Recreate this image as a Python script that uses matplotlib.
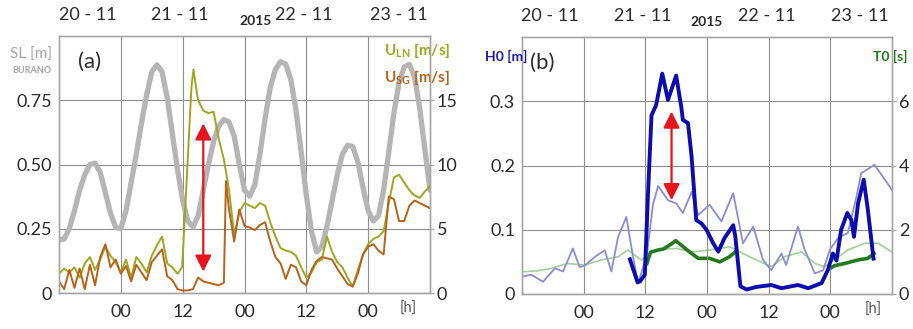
import numpy as np
import matplotlib
matplotlib.use("Agg")
import matplotlib.pyplot as plt

plt.rcParams['font.family'] = ['Lato', 'DejaVu Sans']

# ---------------- data (hours from 20-11-2015 12:00) ----------------
# Sea level at Burano [m], hourly
sl_level = [0.207, 0.21, 0.25, 0.32, 0.40, 0.46, 0.50, 0.505, 0.47, 0.39, 0.31, 0.255, 0.25,
            0.32, 0.43, 0.54, 0.66, 0.77, 0.86, 0.888, 0.86, 0.76, 0.62, 0.48, 0.36, 0.28,
            0.257, 0.30, 0.40, 0.50, 0.59, 0.65, 0.675, 0.665, 0.61, 0.50, 0.40, 0.377, 0.42,
            0.54, 0.68, 0.80, 0.87, 0.90, 0.89, 0.83, 0.71, 0.55, 0.38, 0.24, 0.16, 0.18,
            0.26, 0.36, 0.46, 0.54, 0.575, 0.57, 0.51, 0.41, 0.32, 0.28, 0.30, 0.40, 0.55,
            0.70, 0.82, 0.88, 0.89, 0.84, 0.72, 0.56, 0.40]
sl_hours = list(range(len(sl_level)))

# Wind speed U_LN [m/s]
uln_hours = list(range(0, 24)) + [23.9, 25.0, 25.7, 26.1, 26.6, 27.0] + list(range(28, 73))
uln_speed = [1.5, 1.9, 1.6, 2.0, 1.2, 2.3, 2.8, 1.8, 2.6, 3.6, 2.9, 2.4, 1.6, 2.6, 1.2, 2.8,
             2.3, 1.6, 2.9, 3.7, 4.4, 2.3, 2.0, 1.5,
             2.0, 10.5, 16.0, 17.4, 16.0, 15.0,
             14.2, 14.0, 14.1, 12.0, 10.4, 8.0, 4.5, 6.3, 7.0, 6.8, 6.6, 7.0, 6.8, 5.5,
             4.4, 3.5, 3.3, 3.2, 2.9, 2.0, 1.2, 1.6, 2.4, 2.6, 4.4, 3.2, 2.4, 2.0, 1.2,
             0.5, 1.8, 3.0, 3.8, 4.2, 4.4, 4.8, 7.0, 9.0, 9.2, 8.6, 8.0, 7.6, 7.4, 7.9, 8.3]

# Wind speed U_SG [m/s]
usg_hours = list(range(0, 33)) + [32.4] + list(range(33, 73))
usg_speed = [0.9, 0.3, 1.8, 0.4, 1.9, 0.3, 2.2, 0.6, 2.8, 3.8, 2.0, 2.6, 1.5, 2.1, 0.9, 2.2,
             1.6, 1.0, 2.4, 2.9, 3.4, 1.3, 1.0, 0.3, 0.2, 0.2, 0.3, 1.2, 0.9, 0.8, 0.7, 0.6,
             0.8, 8.7,
             6.5, 4.0, 6.5, 5.2, 5.1, 4.9, 5.3, 5.5, 4.0, 2.8, 2.3, 1.1, 2.2, 2.0, 0.9, 0.6,
             1.8, 2.5, 2.8, 2.7, 2.6, 1.9, 1.3, 0.7, 0.5, 1.5, 3.0, 3.6, 3.8, 3.3, 3.0, 7.5,
             7.3, 5.6, 5.6, 6.8, 7.2, 7.0, 6.8, 6.6]

# Significant wave height H0 [m], reference series (thin)
h0_ref_hours = [0, 1.8, 4.1, 6.4, 8.0, 9.9, 11.2, 12.2, 14.2, 16.1, 17.4, 18.7, 20.3, 21.6,
                22.6, 24.3, 25.5, 26.5, 28.4, 30.0, 31.3, 33.0, 34.3, 36.5, 38.8, 41.1,
                43.0, 45.0, 46.9, 48.5, 50.5, 51.4, 53.7, 55.0, 57.0, 58.6, 59.9, 61.5,
                63.4, 65.1, 66.0, 68.6, 72.0]
h0_ref = [0.027, 0.030, 0.019, 0.040, 0.035, 0.071, 0.042, 0.044, 0.058, 0.068, 0.035,
          0.089, 0.120, 0.058, 0.017, 0.060, 0.140, 0.168, 0.146, 0.141, 0.126, 0.159,
          0.123, 0.139, 0.113, 0.157, 0.079, 0.105, 0.053, 0.037, 0.063, 0.045, 0.105,
          0.069, 0.032, 0.037, 0.069, 0.087, 0.095, 0.152, 0.188, 0.201, 0.162]

# Significant wave height H0 [m], model series (thick)
h0_mod_hours = [21.0, 22.5, 23.0, 23.9, 24.5, 25.2, 26.1, 27.3, 28.4, 30.0, 31.0, 31.3,
                32.3, 33.0, 33.9, 34.9, 35.9, 37.2, 38.2, 39.4, 41.1, 41.5, 42.5, 43.7,
                45.6, 48.5, 50.5, 53.7, 55.7, 58.3, 59.5, 60.5, 61.2, 62.1, 63.3, 64.1,
                64.6, 65.4, 66.5, 67.3, 68.4]
h0_mod = [0.054, 0.018, 0.020, 0.030, 0.152, 0.278, 0.294, 0.343, 0.302, 0.340, 0.291,
          0.271, 0.266, 0.214, 0.115, 0.110, 0.100, 0.079, 0.066, 0.087, 0.107, 0.090,
          0.012, 0.007, 0.011, 0.014, 0.009, 0.014, 0.009, 0.017, 0.037, 0.063, 0.052,
          0.100, 0.126, 0.115, 0.089, 0.141, 0.178, 0.131, 0.055]

# Wave period T0 [s], reference series (thin)
t0_ref_hours = [0, 3.0, 5.7, 8.9, 12.2, 15.4, 18.7, 20.6, 23.2, 26.1, 30.0, 33.3, 36.5,
                40.4, 43.0, 45.6, 48.5, 51.1, 54.4, 57.0, 58.9, 60.8, 63.4, 66.7, 69.3, 72.0]
t0_ref = [0.69, 0.72, 0.80, 0.95, 0.90, 1.06, 1.16, 1.37, 1.06, 1.37, 1.42, 1.31, 1.37,
          1.47, 1.26, 1.06, 0.85, 1.16, 1.31, 0.95, 0.85, 1.06, 1.37, 1.58, 1.58, 1.31]

# Wave period T0 [s], model series (thick, two stretches)
t0_mod1_hours = [24.3, 25.0, 26.5, 27.5, 29.0, 29.9, 31.0, 32.6, 34.3, 36.5, 38.5, 40.4, 41.4]
t0_mod1 = [0.95, 1.30, 1.37, 1.40, 1.55, 1.66, 1.52, 1.31, 1.11, 1.11, 1.00, 1.16, 1.30]
t0_mod2_hours = [60.0, 60.8, 62.8, 65.4, 67.3, 68.5]
t0_mod2 = [0.80, 0.88, 0.95, 1.06, 1.11, 1.26]

# arrows marking the event: (hour, lower tip, upper tip) in left-axis units
arrow_a = (28.0, 0.083, 0.66)
arrow_b = (29.1, 0.146, 0.284)

tick_hours = [12, 24, 36, 48, 60]
tick_names = ['00', '12', '00', '12', '00']
date_names = ['20 - 11', '21 - 11', '22 - 11', '23 - 11']

# ---------------- styling ----------------
GRID = '#8f8f8f'
SPINE = '#a6a6a6'
TXT = '#2b2b2b'
C_SL = '#b5b5b5'
C_ULN = '#9ca81e'
C_USG = '#b8621a'
C_H0 = '#0c0cb0'
C_H0REF = '#8c8cd6'
C_T0 = '#237a1b'
C_T0REF = '#a3cf98'

fig = plt.figure(figsize=(9.13, 3.29), dpi=100)
W, H = 913.0, 329.0


def base_axes(rect, ylim, yticks, yticklabels, ylim2, yticks2, date_pos, year_pos, h_pos):
    ax = fig.add_axes(rect)
    ax.set_xlim(0, 72)
    ax.set_ylim(*ylim)
    ax.set_xticks(tick_hours)
    ax.set_xticklabels(tick_names)
    ax.set_yticks(yticks)
    ax.set_yticklabels(yticklabels)
    ax.grid(True, color=GRID, lw=0.8)
    ax.set_axisbelow(True)
    ax.tick_params(axis='both', length=0, labelsize=13, colors=TXT)
    ax.tick_params(axis='x', pad=8)
    ax.tick_params(axis='y', pad=5)
    for s in ax.spines.values():
        s.set_color(SPINE)
        s.set_linewidth(1.0)
    ax2 = ax.twinx()
    ax2.set_ylim(*ylim2)
    ax2.set_yticks(yticks2)
    ax2.tick_params(axis='y', length=3, width=0.8, color=SPINE, labelsize=13,
                    colors=TXT, pad=2)
    for s in ax2.spines.values():
        s.set_color(SPINE)
        s.set_linewidth(1.0)
    xt = ax.get_xaxis_transform()
    for name, xp in zip(date_names, date_pos):
        ax.text(xp, 1.082, name, transform=xt, ha='center', va='center',
                fontsize=13, color=TXT)
    ax.text(year_pos, 1.06, '2015', transform=xt, ha='center', va='center',
            fontsize=10, fontweight='bold', color=TXT)
    ax.text(h_pos, -0.06, '[h]', transform=xt, ha='center', va='center',
            fontsize=10.5, color='#555555')
    return ax, ax2


# ---------------- panel (a) ----------------
axA, axA2 = base_axes([59 / W, 1 - 293 / H, 371 / W, 257 / H],
                      (0, 1.0), [0, 0.25, 0.5, 0.75], ['0', '0.25', '0.50', '0.75'],
                      (0, 20), [0, 5, 10, 15],
                      [5.6, 23.5, 47.5, 66.0], 38.1, 67.7)
axA.plot(sl_hours, sl_level, color=C_SL, lw=3.8, solid_capstyle='round')
axA2.plot(uln_hours, uln_speed, color=C_ULN, lw=1.4)
axA2.plot(usg_hours, usg_speed, color=C_USG, lw=1.4)
axA2.annotate('', xy=(arrow_a[0], arrow_a[1]), xytext=(arrow_a[0], arrow_a[2]),
              xycoords=axA.transData, textcoords=axA.transData,
              arrowprops=dict(arrowstyle='<|-|>,head_length=0.7,head_width=0.35',
                              color='#e8141c', lw=1.6, mutation_scale=14,
                              shrinkA=0, shrinkB=0))
axA.text(-0.02, 0.925, 'SL [m]', transform=axA.transAxes, ha='right', va='center',
         fontsize=11, color='#a6a6a6')
axA.text(-0.02, 0.865, 'BURANO', transform=axA.transAxes, ha='right', va='center',
         fontsize=6.5, fontweight='bold', color='#a6a6a6')
axA.text(0.05, 0.90, '(a)', transform=axA.transAxes, ha='left', va='center',
         fontsize=16, color=TXT)
axA.text(0.876, 0.945, r'U$_{\mathregular{LN}}$ [m/s]', transform=axA.transAxes,
         ha='left', va='center', fontsize=11, fontweight='bold', color=C_ULN)
axA.text(0.876, 0.84, r'U$_{\mathregular{SG}}$ [m/s]', transform=axA.transAxes,
         ha='left', va='center', fontsize=11, fontweight='bold', color=C_USG)

# ---------------- panel (b) ----------------
axB, axB2 = base_axes([522 / W, 1 - 294 / H, 370 / W, 257 / H],
                      (0, 0.4), [0, 0.1, 0.2, 0.3], ['0', '0.1', '0.2', '0.3'],
                      (0, 8), [0, 2, 4, 6],
                      [5.4, 23.5, 47.6, 65.8], 35.9, 68.3)
axB.set_zorder(axB2.get_zorder() + 1)
axB.patch.set_visible(False)
axB2.patch.set_visible(True)
axB2.patch.set_facecolor('white')
axB2.plot(t0_ref_hours, t0_ref, color=C_T0REF, lw=1.2)
axB2.plot(t0_mod1_hours, t0_mod1, color=C_T0, lw=2.6)
axB2.plot(t0_mod2_hours, t0_mod2, color=C_T0, lw=2.6)
axB.plot(h0_ref_hours, h0_ref, color=C_H0REF, lw=1.3)
axB.plot(h0_mod_hours, h0_mod, color=C_H0, lw=2.8)
axB.annotate('', xy=(arrow_b[0], arrow_b[1]), xytext=(arrow_b[0], arrow_b[2]),
             arrowprops=dict(arrowstyle='<|-|>,head_length=0.7,head_width=0.35',
                             color='#e8141c', lw=1.6, mutation_scale=14,
                             shrinkA=0, shrinkB=0))
axB.text(0.014, 0.925, 'H0 [m]', transform=axB.transAxes, ha='right', va='center',
         fontsize=10, fontweight='bold', color='#1a1ab8')
axB.text(0.022, 0.90, '(b)', transform=axB.transAxes, ha='left', va='center',
         fontsize=16, color=TXT)
axB.text(0.949, 0.925, 'T0 [s]', transform=axB.transAxes, ha='left', va='center',
         fontsize=10, fontweight='bold', color=C_T0)

fig.savefig('out.png', dpi=100)
